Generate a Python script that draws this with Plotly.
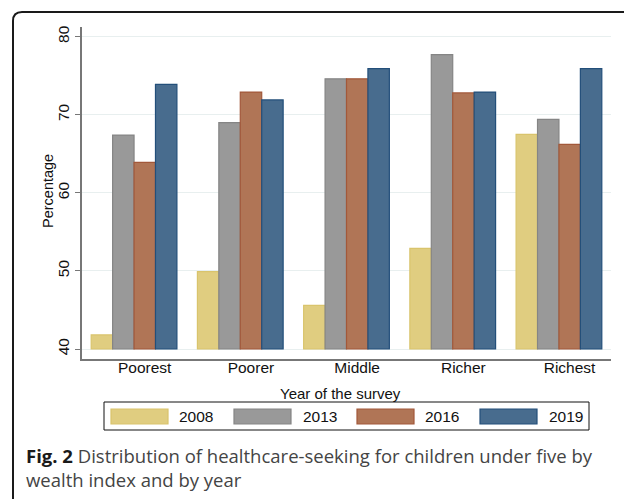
import plotly.graph_objects as go

# Healthcare-seeking for children under five, by wealth quintile and survey year (%)
wealth = ["Poorest", "Poorer", "Middle", "Richer", "Richest"]
years = ["2008", "2013", "2016", "2019"]
pct_2008 = [41.8, 49.9, 45.6, 52.9, 67.5]
pct_2013 = [67.4, 69.0, 74.6, 77.7, 69.4]
pct_2016 = [63.9, 72.9, 74.6, 72.8, 66.2]
pct_2019 = [73.9, 71.9, 75.9, 72.9, 75.9]
y_ticks = [40, 50, 60, 70, 80]

BASE = 40
series = [pct_2008, pct_2013, pct_2016, pct_2019]
fills = ["#e0cd80", "#999999", "#b07556", "#486c8e"]
edges = ["#d9c46c", "#858585", "#a2583a", "#234f7a"]

# figure size and plot box (pixels)
W, H = 624, 499
L, R, T, B = 82, 611, 27, 359


def px(x):
    return (x - L) / (R - L)


def py(y):
    return (B - y) / (B - T)


fig = go.Figure()
xpos = list(range(len(wealth)))
for yr, vals, fc, ec in zip(years, series, fills, edges):
    fig.add_trace(go.Bar(
        name=yr,
        x=xpos,
        y=[v - BASE for v in vals],
        base=BASE,
        customdata=vals,
        hovertemplate="%{customdata:.1f}%<extra>" + yr + "</extra>",
        marker=dict(color=fc, line=dict(color=ec, width=1.2)),
        showlegend=False,
    ))

font_main = "Liberation Sans, Arial, Helvetica, sans-serif"
axis_col = "#777777"

fig.update_layout(
    width=W, height=H,
    margin=dict(l=L, r=W - R, t=T, b=H - B),
    paper_bgcolor="white", plot_bgcolor="white",
    barmode="group", bargap=0.193, bargroupgap=0,
    font=dict(family=font_main, color="#111111", size=15),
    xaxis=dict(
        range=[-0.49, 4.49],
        tickmode="array",
        tickvals=[i + 0.1 for i in xpos],
        ticktext=wealth,
        ticks="", showgrid=False, zeroline=False,
        showline=True, linecolor=axis_col, linewidth=1.5,
        tickfont=dict(size=15.5),
        ticklabelstandoff=-6,
    ),
    yaxis=dict(
        range=[38.72, 81.24],
        tickmode="array", tickvals=y_ticks,
        tickangle=-90,
        ticks="outside", ticklen=5, tickcolor=axis_col, tickwidth=1,
        showgrid=True, gridcolor="#e8efef", gridwidth=1,
        zeroline=False,
        showline=True, linecolor=axis_col, linewidth=1.5,
        tickfont=dict(size=15.5),
    ),
)

shapes = []
annotations = []

# axis titles
annotations.append(dict(
    text="Percentage", x=px(48), y=py(191), xref="paper", yref="paper",
    xanchor="center", yanchor="middle", textangle=-90, showarrow=False,
    font=dict(size=14.5),
))
annotations.append(dict(
    text="Year of the survey", x=px(340), y=py(393), xref="paper", yref="paper",
    xanchor="center", yanchor="middle", showarrow=False, font=dict(size=15),
))

# legend box with wide swatches
shapes.append(dict(type="rect", xref="paper", yref="paper",
                   x0=px(104), x1=px(589), y0=py(430), y1=py(402),
                   line=dict(color="#111111", width=1), fillcolor="white"))
sw_left = [111, 234, 357, 480]
txt_left = [177, 301, 423, 547]
for yr, fc, ec, sx, tx in zip(years, fills, edges, sw_left, txt_left):
    shapes.append(dict(type="rect", xref="paper", yref="paper",
                       x0=px(sx), x1=px(sx + 57), y0=py(424), y1=py(409),
                       line=dict(color=ec, width=1.2), fillcolor=fc))
    annotations.append(dict(
        text=yr, x=px(tx), y=py(416.5), xref="paper", yref="paper",
        xanchor="left", yanchor="middle", showarrow=False, font=dict(size=15.5),
    ))

# caption
annotations.append(dict(
    text=("<b><span style='color:#1a1a1a'>Fig. 2</span></b> Distribution of healthcare-seeking "
          "for children under five by<br>wealth index and by year"),
    x=px(24), y=py(441), xref="paper", yref="paper",
    xanchor="left", yanchor="top", align="left", showarrow=False,
    font=dict(family="Open Sans, Noto Sans, sans-serif", size=18.5, color="#444444"),
))

# rounded outer frame, open to the right and bottom edges
fx, fy, rr = 13, 12, 9
path = (f"M {px(fx)} {py(H + 5)} L {px(fx)} {py(fy + rr)} "
        f"Q {px(fx)} {py(fy)} {px(fx + rr)} {py(fy)} L {px(W + 5)} {py(fy)}")
shapes.append(dict(type="path", xref="paper", yref="paper", path=path,
                   line=dict(color="#1a1a1a", width=2)))

fig.update_layout(shapes=shapes, annotations=annotations)
fig.write_html("out.html")
